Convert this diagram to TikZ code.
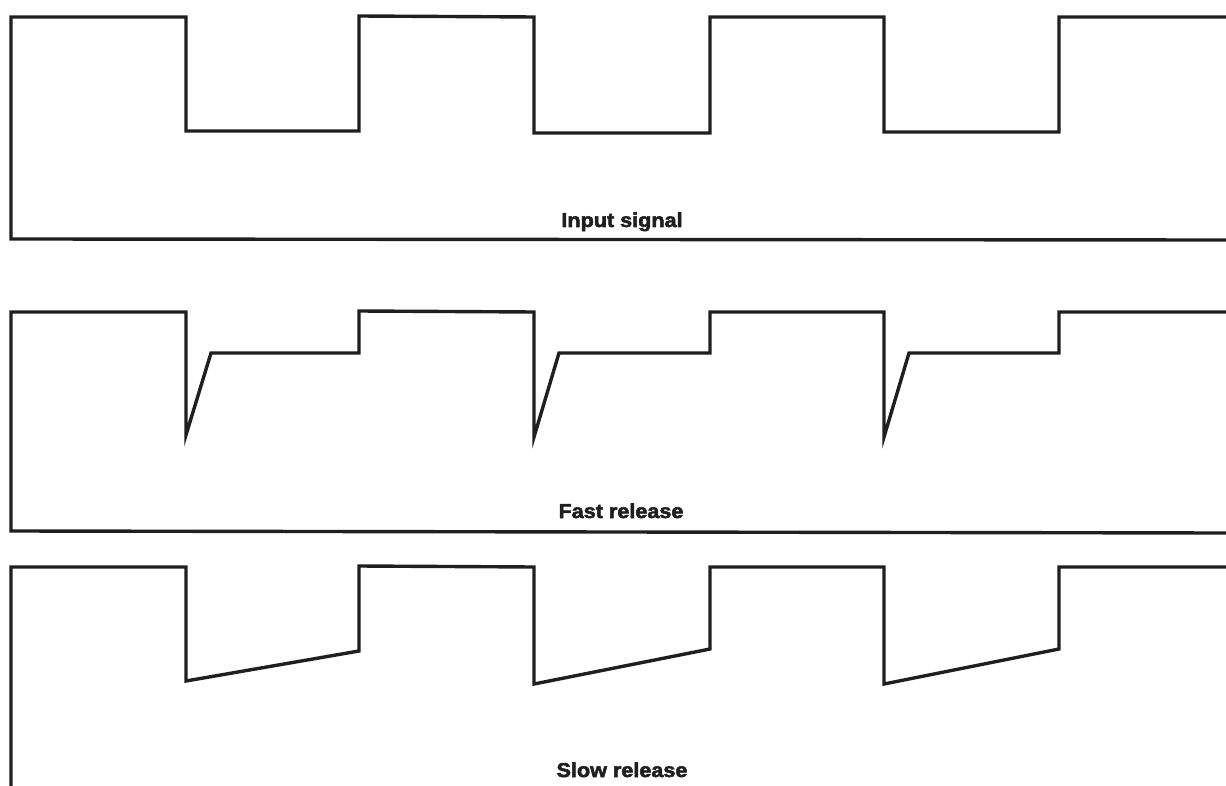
\documentclass[tikz,border=0pt]{standalone}
\usepackage{fontspec}
\setmainfont{Liberation Sans}
\newfontfamily\lblfont[FakeBold=2.6,FakeStretch=1.08]{Liberation Sans Bold}
\begin{document}
\begin{tikzpicture}[x=1pt,y=-1pt,
  wave/.style={line width=3.4pt,line join=miter,black!88},
  lbl/.style={font=\lblfont\fontsize{20}{20}\selectfont,text=black!88,inner sep=0pt,anchor=base}]
\useasboundingbox (0,0) rectangle (1226,786);
% Input signal
\draw[wave] (1226,240) -- (11,239) -- (11,17) -- (186,17) -- (186,131) -- (359,131) -- (359,16)
  -- (534,17) -- (534,133) -- (710,133) -- (710,17) -- (884,17) -- (884,132) -- (1059,132)
  -- (1059,17) -- (1226,17);
\node[lbl] (in) at (622,227) {Input signal};
% Fast release
\draw[wave] (1226,533) -- (11,531) -- (11,312) -- (186,312) -- (186,435) -- (211,353) -- (359,353)
  -- (359,311) -- (534,312) -- (534,437) -- (559,353) -- (710,353) -- (710,312) -- (884,312)
  -- (884,437) -- (909,353) -- (1059,353) -- (1059,312) -- (1226,312);
\node[lbl] (fast) at (621,518) {Fast release};
% Slow release
\draw[wave] (11,786) -- (11,567) -- (186,567) -- (186,681) -- (359,651) -- (359,566)
  -- (534,567) -- (534,684) -- (710,649) -- (710,567) -- (884,567) -- (884,684)
  -- (1059,649) -- (1059,567) -- (1226,567);
\node[lbl] (slow) at (622,777) {Slow release};
\end{tikzpicture}
\end{document}
